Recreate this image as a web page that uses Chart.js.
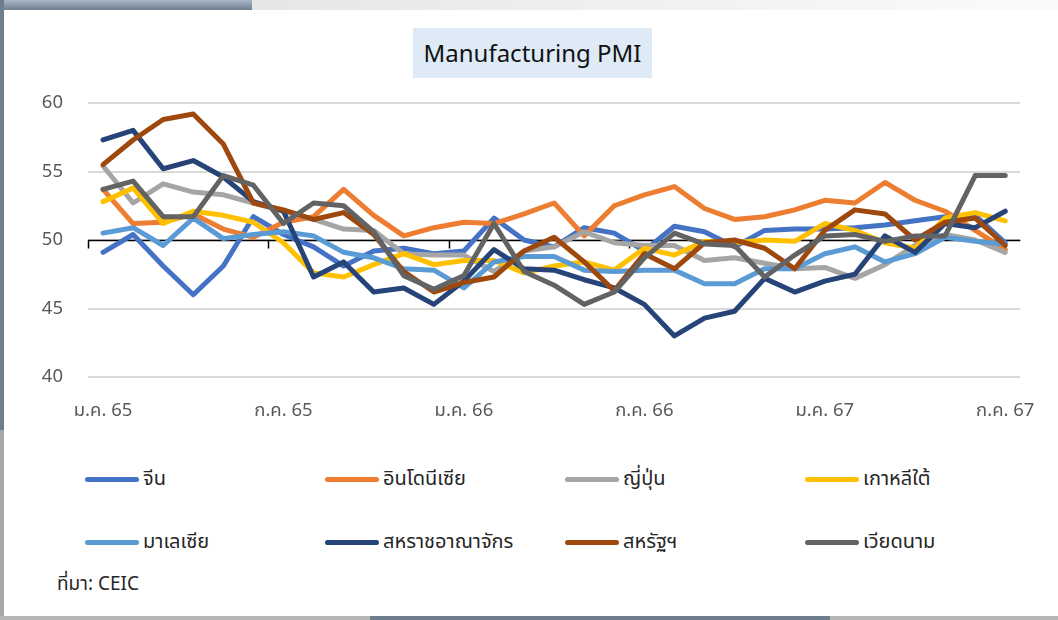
<!DOCTYPE html>
<html>
<head>
<meta charset="utf-8">
<script src="https://cdn.jsdelivr.net/npm/chart.js@4.4.1/dist/chart.umd.min.js"></script>
<style>
  body { margin: 0; width: 1058px; height: 620px; position: relative; overflow: hidden; background: #fff;
         font-family: "Noto Sans", "Noto Sans Thai", "DejaVu Sans", sans-serif; }
  .frame-top-l { position: absolute; left: 0; top: 0; width: 252px; height: 10px;
                 background: linear-gradient(#a9b9cb, #6f7e8d); }
  .frame-top-r { position: absolute; left: 252px; top: 0; width: 806px; height: 10px;
                 background: linear-gradient(90deg, #e6e6e6, #f3f3f3 60%, #fbfbfb); }
  .frame-left  { position: absolute; left: 0; top: 0; width: 4px; height: 430px; background: #6f7e8d; }
  .frame-left2 { position: absolute; left: 0; top: 430px; width: 4px; height: 190px; background: #a8a8a8; }
  .frame-bot   { position: absolute; left: 0; top: 616px; width: 1058px; height: 4px; background: #b5b5b5; }
  .frame-bot2  { position: absolute; left: 370px; top: 616px; width: 460px; height: 4px; background: #6f7e8d; }
  #wrap { position: absolute; left: 0; top: 0; width: 1058px; height: 440px; }
  .title { position: absolute; left: 413px; top: 28px; width: 239px; height: 50px; background: #deeaf6;
           font-size: 24px; line-height: 50px; text-align: center; color: #111; }
  .leg { position: absolute; display: flex; align-items: center; font-size: 20px; color: #262626; }
  .leg i { display: inline-block; width: 54px; height: 5px; border-radius: 3px; margin-right: 4px; }
  .src { position: absolute; left: 57px; top: 570px; font-size: 19px; color: #262626; }
</style>
</head>
<body>
<div class="frame-top-l"></div><div class="frame-top-r"></div>
<div class="frame-left"></div><div class="frame-left2"></div>
<div class="frame-bot"></div><div class="frame-bot2"></div>
<div id="wrap"><canvas id="pmi"></canvas></div>
<div class="title">Manufacturing PMI</div>
<div id="legend"></div>
<div class="src">ที่มา: CEIC</div>
<script>
const months = ["ม.ค. 65","ก.พ. 65","มี.ค. 65","เม.ย. 65","พ.ค. 65","มิ.ย. 65","ก.ค. 65","ส.ค. 65","ก.ย. 65","ต.ค. 65","พ.ย. 65","ธ.ค. 65",
  "ม.ค. 66","ก.พ. 66","มี.ค. 66","เม.ย. 66","พ.ค. 66","มิ.ย. 66","ก.ค. 66","ส.ค. 66","ก.ย. 66","ต.ค. 66","พ.ย. 66","ธ.ค. 66",
  "ม.ค. 67","ก.พ. 67","มี.ค. 67","เม.ย. 67","พ.ค. 67","มิ.ย. 67","ก.ค. 67"];

const china     = [49.1,50.4,48.1,46.0,48.1,51.7,50.4,49.5,48.1,49.2,49.4,49.0,49.2,51.6,50.0,49.5,50.9,50.5,49.2,51.0,50.6,49.5,50.7,50.8,50.8,50.9,51.1,51.4,51.7,51.8,49.8];
const indonesia = [53.7,51.2,51.3,51.9,50.8,50.2,51.3,51.7,53.7,51.8,50.3,50.9,51.3,51.2,51.9,52.7,50.3,52.5,53.3,53.9,52.3,51.5,51.7,52.2,52.9,52.7,54.2,52.9,52.1,50.7,49.3];
const japan     = [55.4,52.7,54.1,53.5,53.3,52.7,52.1,51.5,50.8,50.7,49.0,48.9,48.9,47.7,49.2,49.5,50.6,49.8,49.6,49.6,48.5,48.7,48.3,47.9,48.0,47.2,48.2,49.6,50.4,50.0,49.1];
const korea     = [52.8,53.8,51.2,52.1,51.8,51.3,49.8,47.6,47.3,48.2,49.0,48.2,48.5,48.5,47.6,48.1,48.4,47.8,49.4,48.9,49.9,49.8,50.0,49.9,51.2,50.7,49.8,49.4,51.6,52.0,51.4];
const malaysia  = [50.5,50.9,49.6,51.6,50.1,50.4,50.6,50.3,49.1,48.7,47.9,47.8,46.5,48.4,48.8,48.8,47.8,47.7,47.8,47.8,46.8,46.8,47.9,47.9,49.0,49.5,48.4,49.0,50.2,49.9,49.7];
const uk        = [57.3,58.0,55.2,55.8,54.6,52.8,52.1,47.3,48.4,46.2,46.5,45.3,47.0,49.3,47.9,47.8,47.1,46.5,45.3,43.0,44.3,44.8,47.2,46.2,47.0,47.5,50.3,49.1,51.2,50.9,52.1];
const us        = [55.5,57.3,58.8,59.2,57.0,52.7,52.2,51.5,52.0,50.4,47.7,46.2,46.9,47.3,49.2,50.2,48.4,46.3,49.0,47.9,49.8,50.0,49.4,47.9,50.7,52.2,51.9,50.0,51.3,51.6,49.6];
const vietnam   = [53.7,54.3,51.7,51.7,54.7,54.0,51.2,52.7,52.5,50.6,47.4,46.4,47.4,51.2,47.7,46.7,45.3,46.2,48.7,50.5,49.7,49.6,47.3,48.9,50.3,50.4,49.9,50.3,50.3,54.7,54.7];

const seriesNames  = ["จีน","อินโดนีเซีย","ญี่ปุ่น","เกาหลีใต้","มาเลเซีย","สหราชอาณาจักร","สหรัฐฯ","เวียดนาม"];
const seriesValues = [china, indonesia, japan, korea, malaysia, uk, us, vietnam];
const seriesColors = ["#4472c4","#ed7d31","#a5a5a5","#ffc000","#5b9bd5","#264478","#9e480e","#636363"];
const yTicks = [40, 45, 50, 55, 60];

Chart.defaults.font.family = '"Noto Sans", "Noto Sans Thai", "DejaVu Sans", sans-serif';

// black axis line crossing at 50, with tick marks every 6 months
const baseLine = {
  id: "baseLine",
  beforeDatasetsDraw(chart) {
    const { ctx, chartArea, scales: { x, y } } = chart;
    const yy = Math.round(y.getPixelForValue(50)) + 0.5;
    const half = (x.getPixelForValue(1) - x.getPixelForValue(0)) / 2;
    ctx.save();
    ctx.strokeStyle = "#000";
    ctx.lineWidth = 1.5;
    ctx.beginPath();
    ctx.moveTo(chartArea.left, yy);
    ctx.lineTo(chartArea.right, yy);
    for (let i = 0; i < months.length; i += 6) {
      const xx = Math.round(x.getPixelForValue(i) - half) + 0.5;
      ctx.moveTo(xx, yy);
      ctx.lineTo(xx, yy + 8);
    }
    ctx.stroke();
    ctx.restore();
  }
};

const datasets = seriesNames.map((name, k) => ({
  label: name,
  data: seriesValues[k],
  borderColor: seriesColors[k],
  backgroundColor: seriesColors[k],
  borderWidth: 5,
  pointRadius: 0,
  tension: 0,
  borderJoinStyle: "round",
  borderCapStyle: "round",
  order: seriesNames.length - k
}));

const chart = new Chart(document.getElementById("pmi"), {
  type: "line",
  data: { labels: months, datasets: datasets },
  options: {
    responsive: true,
    maintainAspectRatio: false,
    animation: false,
    layout: { padding: { top: 103, right: 36, bottom: 10, left: 0 } },
    plugins: { legend: { display: false }, tooltip: { enabled: false } },
    scales: {
      x: {
        offset: true,
        grid: { display: false, drawTicks: false },
        border: { display: false },
        afterFit(s) { s.height = 53; },
        ticks: {
          autoSkip: false, maxRotation: 0, padding: 23,
          color: "#595959", font: { size: 18.5 },
          callback(v, i) { return i % 6 === 0 ? this.getLabelForValue(v) : ""; }
        }
      },
      y: {
        min: 40, max: 60,
        afterFit(s) { s.width = 88; },
        afterBuildTicks(s) { s.ticks = yTicks.map(v => ({ value: v })); },
        grid: { color: "#d9d9d9", lineWidth: 2, drawTicks: false },
        border: { display: false },
        ticks: { padding: 25, color: "#595959", font: { size: 18.5 } }
      }
    }
  },
  plugins: [baseLine]
});

// legend in 4 columns x 2 rows, built from the chart datasets
const legend = document.getElementById("legend");
chart.data.datasets.forEach((ds, k) => {
  const el = document.createElement("div");
  el.className = "leg";
  el.style.left = (85 + (k % 4) * 240) + "px";
  el.style.top = (464 + Math.floor(k / 4) * 63) + "px";
  el.innerHTML = '<i style="background:' + ds.borderColor + '"></i><span>' + ds.label + '</span>';
  legend.appendChild(el);
});
</script>
</body>
</html>
